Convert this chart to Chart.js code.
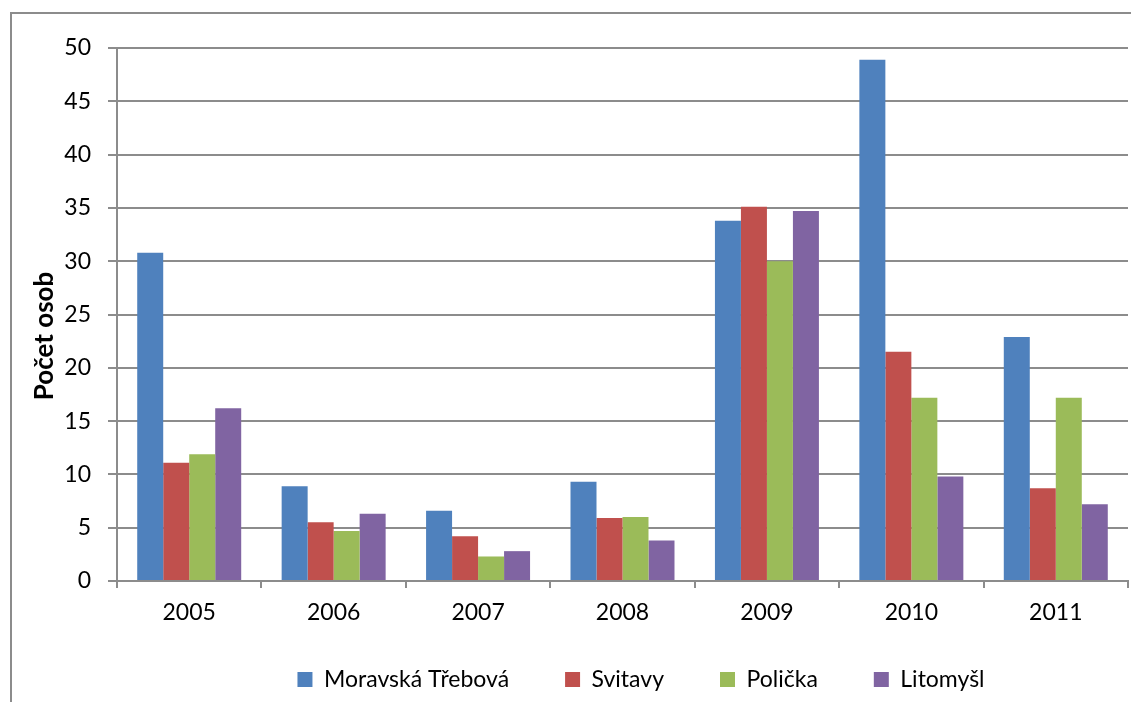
<!doctype html>
<html lang="cs">
  <head>
    <meta charset="utf-8">
    <title>Počet osob 2005-2011</title>
    <style>
      * {
        margin: 0;
        padding: 0;
      }
      body {
        width: 1131px;
        height: 702px;
        overflow: hidden;
        background: white;
        position: relative;
      }
      .frame {
        position: absolute;
        left: 10px;
        top: 12px;
        width: 1300px;
        height: 800px;
        border: 2px solid #8c8c8c;
      }
      .chartBox {
        position: absolute;
        left: 0;
        top: 0;
        width: 1131px;
        height: 702px;
      }
    </style>
  </head>
  <body>
    <div class="frame"></div>
    <div class="chartBox">
      <canvas id="myChart" width="1131" height="702"></canvas>
    </div>
    <script src="https://cdn.jsdelivr.net/npm/chart.js/dist/chart.umd.min.js"></script>
    <script>
    const years = ['2005', '2006', '2007', '2008', '2009', '2010', '2011'];
    const moravskaTrebova = [30.8, 8.9, 6.6, 9.3, 33.8, 48.9, 22.9];
    const svitavy = [11.1, 5.5, 4.2, 5.9, 35.1, 21.5, 8.7];
    const policka = [11.9, 4.7, 2.3, 6.0, 30.0, 17.2, 17.2];
    const litomysl = [16.2, 6.3, 2.8, 3.8, 34.7, 9.8, 7.2];
    const yTitleText = 'Počet osob';

    Chart.defaults.font.family = 'Lato, "Open Sans", sans-serif';
    Chart.defaults.color = '#000';

    const gridColor = '#8c8c8c';

    // axis title drawn by hand, Excel centres it on the whole chart
    const yTitle = {
      id: 'yTitle',
      afterDraw(chart) {
        const ctx = chart.ctx;
        ctx.save();
        ctx.translate(45, 336);
        ctx.rotate(-Math.PI / 2);
        ctx.font = 'bold 26px Lato, sans-serif';
        ctx.fillStyle = '#000';
        ctx.textAlign = 'center';
        ctx.textBaseline = 'middle';
        ctx.fillText(yTitleText, 0, 0);
        ctx.restore();
      }
    };

    // legend sits off-centre (frame runs past the right edge) and a bit higher
    const legendShift = {
      id: 'legendShift',
      afterLayout(chart) {
        const lg = chart.legend;
        lg.left += 77;
        lg.right += 77;
        lg.top -= 19;
        lg.bottom -= 19;
      }
    };

    const data = {
      labels: years,
      datasets: [{
        label: 'Moravská Třebová',
        data: moravskaTrebova,
        backgroundColor: '#4f81bd'
      }, {
        label: 'Svitavy',
        data: svitavy,
        backgroundColor: '#c0504d'
      }, {
        label: 'Polička',
        data: policka,
        backgroundColor: '#9bbb59'
      }, {
        label: 'Litomyšl',
        data: litomysl,
        backgroundColor: '#8064a2'
      }]
    };

    const config = {
      type: 'bar',
      data,
      plugins: [yTitle, legendShift],
      options: {
        responsive: false,
        animation: false,
        datasets: {
          bar: {
            categoryPercentage: 0.72,
            barPercentage: 1
          }
        },
        layout: {
          padding: { top: 48, right: 3, bottom: -18, left: 0 }
        },
        plugins: {
          tooltip: { enabled: false },
          legend: {
            position: 'bottom',
            labels: {
              boxWidth: 15,
              boxHeight: 15,
              padding: 56,
              font: { size: 23 },
              color: '#000'
            }
          }
        },
        scales: {
          x: {
            grid: {
              offset: true,
              drawOnChartArea: false,
              tickLength: 7,
              color: gridColor,
              lineWidth: 2
            },
            border: { color: gridColor, width: 2 },
            ticks: {
              padding: 11,
              font: { size: 23 },
              color: '#000'
            },
            afterFit(scale) {
              scale.height = 50;
            }
          },
          y: {
            min: 0,
            max: 50,
            ticks: {
              stepSize: 5,
              padding: 17,
              font: { size: 23 },
              color: '#000'
            },
            grid: {
              color: gridColor,
              lineWidth: 2,
              tickLength: 9
            },
            border: { color: gridColor, width: 2 },
            afterFit(scale) {
              scale.width = 117;
            }
          }
        }
      }
    };

    const myChart = new Chart(
      document.getElementById('myChart'),
      config
    );
    </script>
  </body>
</html>
